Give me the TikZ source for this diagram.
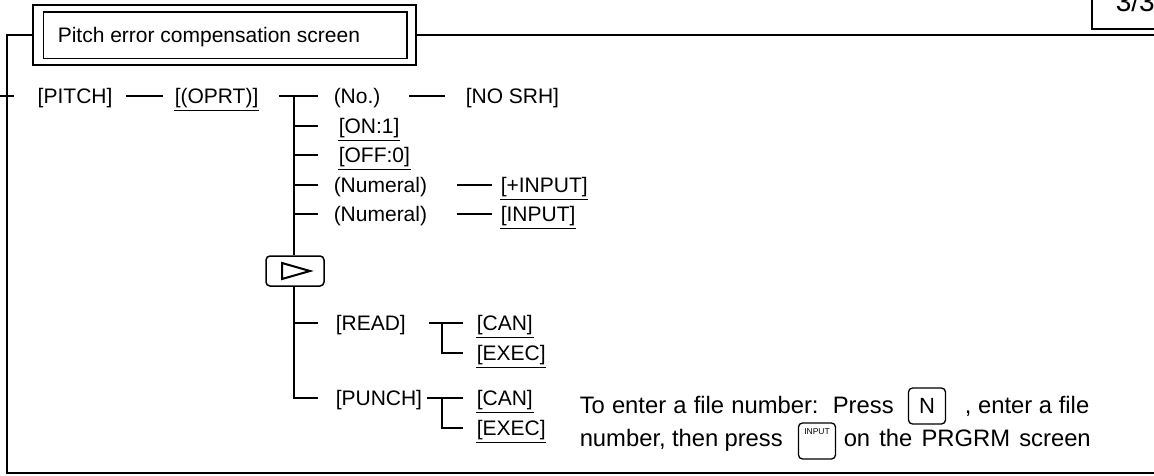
\documentclass[tikz,border=0pt]{standalone}
\usepackage{fontspec}
\setmainfont{Liberation Sans}
\newcommand\diagfont{\fontsize{21}{25}\selectfont}
\newcommand\notefont{\fontsize{23.8}{28}\selectfont}
\newcommand\keyfont{\fontsize{8.5}{9}\selectfont}
\begin{document}
\begin{tikzpicture}[x=1pt, y=-1pt, line width=1.5pt,
  lbl/.style={anchor=west, inner sep=0pt, text height=15pt, text depth=0pt, font=\diagfont},
  note/.style={anchor=west, inner sep=0pt, text height=17pt, text depth=0pt, font=\notefont},
  ulline/.style={line width=1.3pt},
  keycap/.style={draw, rounded corners=4pt, line width=1.3pt, inner sep=0pt, minimum width=37pt, minimum height=36pt},
  softkey/.style={draw, rounded corners=4pt, inner sep=0pt, minimum width=58pt, minimum height=30pt}]
\useasboundingbox (0,0) rectangle (1154,476);
\clip (0,0) rectangle (1154,476);

% page tab in the upper right corner
\draw (1092,-10) rectangle (1190,29);
\node[anchor=base west, inner sep=0pt, font=\fontsize{28}{32}\selectfont] (pagenum) at (1115,12) {3/3};

% screen title with its double border
\node[draw, minimum width=383pt, minimum height=60pt, inner sep=0pt] (title) at (224.5,35) {};
\draw ([xshift=11pt,yshift=-8pt]title.north west) rectangle ([xshift=-10pt,yshift=7pt]title.south east);
\node[lbl] (titletext) at (57,35) {Pitch error compensation screen};

% outer frame
\coordinate (frameR) at (1154,35);
\coordinate (frameTL) at (7,35);
\coordinate (frameBL) at (7,473);
\coordinate (frameBR) at (1154,473);
\draw (title.east) -- (frameR);
\draw (title.west) -- (frameTL) -- (frameBL) -- (frameBR);

% entry tick
\coordinate (entryA) at (0,96);
\coordinate (entryB) at (14,96);
\draw (entryA) -- (entryB);

% soft keys
\node[lbl] (pitch) at (37,96) {[PITCH]};
\node[lbl] (oprt) at (174,96) {[(OPRT)]};
\node[lbl] (no) at (333,96) {(No.)};
\node[lbl] (nosrh) at (465,96) {[NO SRH]};
\node[lbl] (on) at (338,126) {[ON:1]};
\node[lbl] (off) at (338,155) {[OFF:0]};
\node[lbl] (num1) at (333,185) {(Numeral)};
\node[lbl] (pinput) at (500,185) {[+INPUT]};
\node[lbl] (num2) at (333,214) {(Numeral)};
\node[lbl] (input) at (500,214) {[INPUT]};
\node[softkey] (nextkey) at (295,271) {};
\draw[line width=2pt, line join=miter]
  ([xshift=-13pt,yshift=8pt]nextkey.center) -- ([xshift=15pt]nextkey.center)
  -- ([xshift=-13pt,yshift=-8pt]nextkey.center) -- cycle;
\node[lbl] (read) at (335,323) {[READ]};
\node[lbl] (can1) at (476,323) {[CAN]};
\node[lbl] (exec1) at (476,353) {[EXEC]};
\node[lbl] (punch) at (335,398) {[PUNCH]};
\node[lbl] (can2) at (476,398) {[CAN]};
\node[lbl] (exec2) at (476,428) {[EXEC]};

% underlined keys
\foreach \n in {oprt,on,off,pinput,input,can1,exec1,can2,exec2}
  \draw[ulline] ([yshift=-6.5pt]\n.south west) -- ([yshift=-6.5pt]\n.south east);

% connectors
\draw[shorten <=13pt, shorten >=11pt] (pitch) -- (oprt);
\draw[shorten <=20pt, shorten >=15pt] (oprt) -- (no);
\draw[shorten <=28pt, shorten >=20pt] (no) -- (nosrh);
\coordinate (trunk) at (294,96);
\draw (trunk) -- (trunk |- nextkey.north);
\draw[shorten >=20pt] (trunk |- on) -- (on);
\draw[shorten >=20pt] (trunk |- off) -- (off);
\draw[shorten >=15pt] (trunk |- num1) -- (num1);
\draw[shorten >=15pt] (trunk |- num2) -- (num2);
\draw[shorten <=29pt, shorten >=8pt] (num1) -- (pinput);
\draw[shorten <=29pt, shorten >=8pt] (num2) -- (input);
\draw[shorten >=17pt] (trunk |- nextkey.south) |- (punch);
\draw[shorten >=17pt] (trunk |- read) -- (read);

\draw[shorten <=22pt, shorten >=13pt] (read) -- (can1);
\coordinate (readfork) at (442,323);
\draw[shorten >=13pt] (readfork) |- (exec1);
\draw[shorten <=4pt, shorten >=13pt] (punch) -- (can2);
\coordinate (punchfork) at (442,398);
\draw[shorten >=13pt] (punchfork) |- (exec2);

% note with key caps
\node[note] (noteA) at (579,405) {\makebox[314pt][s]{To enter a file number:\ \ Press}};
\node[keycap] (nkey) at (927,406) {\fontsize{22}{26}\selectfont N};
\node[note, anchor=east] (noteB) at (1090,405) {, enter a file};
\node[note] (noteC) at (579,438) {\makebox[203pt][s]{number, then press}};
\node[keycap] (ikey) at (817,441) {};
\node[inner sep=0pt, font=\keyfont] (ikeylabel) at ([yshift=-9pt]ikey.north) {INPUT};
\node[note] (noteD) at (843,438) {\makebox[247pt][s]{on the PRGRM screen}};
\end{tikzpicture}
\end{document}
